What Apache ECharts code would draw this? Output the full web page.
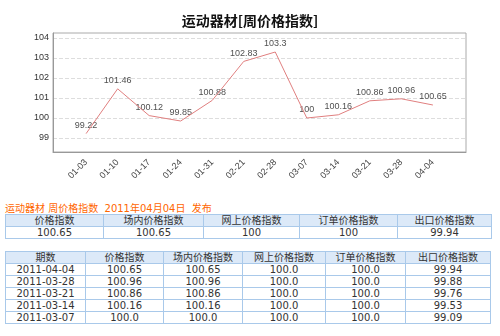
<!DOCTYPE html>
<html><head><meta charset="utf-8">
<script src="https://cdn.jsdelivr.net/npm/echarts@6/dist/echarts.min.js"></script>
<style>
html,body{margin:0;padding:0;background:#fff;width:500px;height:336px;overflow:hidden;}
#chart{position:absolute;left:0;top:0;width:500px;height:190px;}
.note{position:absolute;left:5px;top:200px;font:10px "DejaVu Sans","Noto Sans CJK SC",sans-serif;color:#ff6600;white-space:pre;}
table{position:absolute;border-collapse:collapse;table-layout:fixed;font:10px "DejaVu Sans","Noto Sans CJK SC",sans-serif;color:#333;}
td{border:1px solid #a9c9ea;padding:0;text-align:center;line-height:11px;height:11px;white-space:nowrap;overflow:hidden;}
tr.h td{background:#dce9f8;}
</style></head><body>
<div id="chart"></div>
<div class="note" id="note"></div>
<table id="t1"></table>
<table id="t2"></table>
<script>
var chartTitle = '运动器材[周价格指数]';
var categories = ['01-03','01-10','01-17','01-24','01-31','02-21','02-28','03-07','03-14','03-21','03-28','04-04'];
var values = [99.22,101.46,100.12,99.85,100.88,102.83,103.3,100,100.16,100.86,100.96,100.65];
var yTicks = [99,100,101,102,103,104];

var noteText = '运动器材 周价格指数  2011年04月04日  发布';
var summaryHeaders = ['价格指数','场内价格指数','网上价格指数','订单价格指数','出口价格指数'];
var summaryValues = ['100.65','100.65','100','100','99.94'];
var historyHeaders = ['期数','价格指数','场内价格指数','网上价格指数','订单价格指数','出口价格指数'];
var historyDates = ['2011-04-04','2011-03-28','2011-03-21','2011-03-14','2011-03-07'];
var historyPrice = ['100.65','100.96','100.86','100.16','100.0'];
var historyMarket = ['100.65','100.96','100.86','100.16','100.0'];
var historyOnline = ['100.0','100.0','100.0','100.0','100.0'];
var historyOrder = ['100.0','100.0','100.0','100.0','100.0'];
var historyExport = ['99.94','99.88','99.76','99.53','99.09'];

document.getElementById('note').textContent = noteText;

function buildTable(el, headers, rows, widths, left, top){
  var t = document.getElementById(el);
  t.style.left = left+'px'; t.style.top = top+'px';
  var tw = widths.reduce(function(a,b){return a+b;},0);
  t.style.width = tw+'px';
  var cg = '<colgroup>'+widths.map(function(w){return '<col style="width:'+w+'px">';}).join('')+'</colgroup>';
  var html = cg + '<tr class="h">'+headers.map(function(h){return '<td>'+h+'</td>';}).join('')+'</tr>';
  rows.forEach(function(r){html += '<tr>'+r.map(function(c){return '<td>'+c+'</td>';}).join('')+'</tr>';});
  t.innerHTML = html;
}
buildTable('t1', summaryHeaders, [summaryValues], [98,100,96,98,94], 5, 214);
var hrows = historyDates.map(function(d,i){return [d,historyPrice[i],historyMarket[i],historyOnline[i],historyOrder[i],historyExport[i]];});
buildTable('t2', historyHeaders, hrows, [80,78,79,83,80,85], 5, 251);

var chart = echarts.init(document.getElementById('chart'));
var idx = categories.map(function(c,i){return i;});
var pts = values.map(function(v,i){return [i,v];});
var F = '"Liberation Sans",Arial,sans-serif';
chart.setOption({
  animation:false,
  title:{text:chartTitle,left:'center',top:9,textStyle:{fontSize:14,fontWeight:'bold',color:'#111',fontFamily:'"Noto Sans CJK SC",sans-serif'}},
  grid:{left:53,right:34,top:33,bottom:38,show:true,borderColor:'#aaa',borderWidth:1},
  xAxis:{type:'value',min:-1.05,max:12.05,
    axisLine:{show:true,onZero:false,lineStyle:{color:'#999'}},axisTick:{show:false},splitLine:{show:false},
    axisLabel:{customValues:idx,rotate:45,fontSize:9,fontFamily:F,color:'#444',margin:9,formatter:function(v){return categories[Math.round(v)];}}},
  yAxis:{type:'value',min:98.3,max:104.25,
    axisLine:{show:true,onZero:false,lineStyle:{color:'#999'}},
    axisTick:{show:false,customValues:yTicks},
    axisLabel:{customValues:yTicks,fontSize:9,fontFamily:F,color:'#333',margin:4},
    splitLine:{show:true,lineStyle:{color:'#ddd',type:'dashed'}}},
  series:[
    {type:'line',data:pts,symbol:'none',lineStyle:{color:'#e07f7f',width:1},silent:true},
    {type:'scatter',data:pts,symbolSize:1,itemStyle:{color:'rgba(0,0,0,0)'},
     label:{show:true,position:'top',distance:3,fontSize:9,fontFamily:F,color:'#222',formatter:function(p){return String(p.value[1]);}}}
  ]
});
</script>
</body></html>
